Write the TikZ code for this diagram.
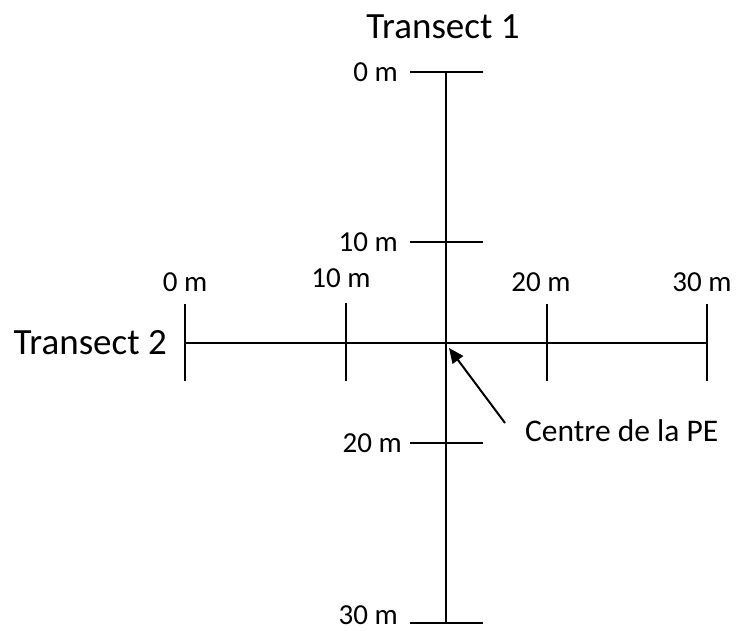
\documentclass[tikz,border=0pt]{standalone}
\usepackage{fontspec}
\setmainfont{Carlito}
\usetikzlibrary{positioning,arrows.meta}
\begin{document}
\begin{tikzpicture}[x=1pt,y=1pt,line cap=butt,
	axe/.style={line width=2.6pt},
	lbl/.style={inner sep=0pt,font=\fontsize{29}{32}\selectfont},
	titre/.style={inner sep=0pt,font=\fontsize{37}{42}\selectfont}]
	\useasboundingbox (0,0) rectangle (745,631);
	% transect 1 (vertical)
	\coordinate (v0) at (446,559);
	\coordinate (v10) at (446,389);
	\coordinate (v20) at (446,188);
	\coordinate (v30) at (446,8);
	\draw [axe] (v0)--(v30);
	\draw [axe] ([xshift=-36pt]v0)--([xshift=37pt]v0)
	([xshift=-36pt]v10)--([xshift=37pt]v10)
	([xshift=-36pt]v20)--([xshift=37pt]v20)
	([xshift=-36pt]v30)--([xshift=37pt]v30);
	\node [lbl, left=48pt of v0] (lv0) {0 m};
	\node [lbl, left=48pt of v10] (lv10) {10 m};
	\node [lbl, left=44pt of v20] (lv20) {20 m};
	\node [lbl, left=48pt of v30, yshift=8pt] (lv30) {30 m};
	\node [titre] (tr1) at (443,604) {Transect 1};
	% transect 2 (horizontal)
	\coordinate (h0) at (185,288);
	\coordinate (h10) at (346,288);
	\coordinate (c) at (446,288);
	\coordinate (h20) at (547,288);
	\coordinate (h30) at (707,288);
	\draw [axe] (h0)--(h30);
	\draw [axe] ([yshift=-38pt]h0)--([yshift=39pt]h0)
	([yshift=-38pt]h10)--([yshift=40pt]h10)
	([yshift=-38pt]h20)--([yshift=39pt]h20)
	([yshift=-38pt]h30)--([yshift=39pt]h30);
	\node [lbl, above=51pt of h0] (lh0) {0 m};
	\node [lbl, above=55pt of h10, xshift=-5pt] (lh10) {10 m};
	\node [lbl, above=51pt of h20, xshift=-6pt] (lh20) {20 m};
	\node [lbl, above=51pt of h30, xshift=-5pt] (lh30) {30 m};
	\node [titre, left=18pt of h0] (tr2) {Transect 2};
	% centre
	\node [inner sep=0pt, anchor=west, font=\fontsize{31.5}{35}\selectfont] (pe) at (525,200) {Centre de la PE};
	\coordinate (fl) at ([shift={(-20pt,8pt)}]pe.west);
	\draw [line width=2pt, -{Triangle[length=15pt,width=13pt]}] (fl)--([shift={(3pt,-5pt)}]c);
\end{tikzpicture}
\end{document}
